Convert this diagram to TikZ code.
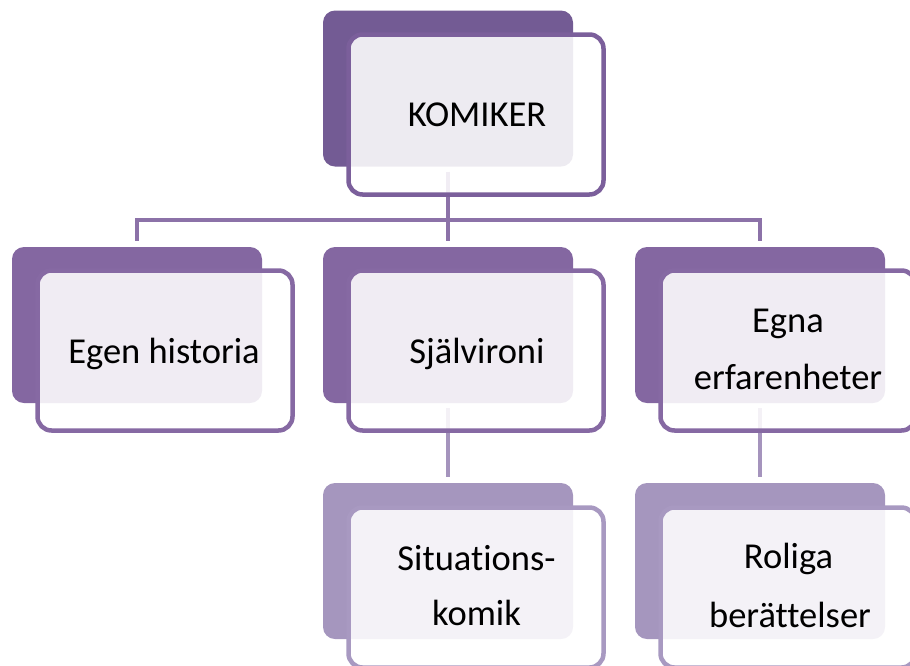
\documentclass[tikz,border=0pt]{standalone}
\usepackage{fontspec}
\setmainfont{Carlito}[Ligatures={CommonOff}]
\usetikzlibrary{backgrounds}
\definecolor{backA}{HTML}{735B94}
\definecolor{backB}{HTML}{8467A1}
\definecolor{backC}{HTML}{A596BE}
\definecolor{outA}{HTML}{7B5F9B}
\definecolor{outB}{HTML}{8669A3}
\definecolor{outC}{HTML}{A899C1}
\definecolor{connA}{HTML}{8C72A8}
\definecolor{connB}{HTML}{A594BD}
\begin{document}
\begin{tikzpicture}[x=1pt,y=-1pt,
  backbox/.style={rectangle, rounded corners=12pt, minimum width=250pt, minimum height=156pt, inner sep=0pt, draw=none},
  frontbox/.style={rectangle, rounded corners=14pt, minimum width=255pt, minimum height=160pt, inner sep=0pt, line width=4.5pt, fill=white, fill opacity=0.88, draw opacity=1},
  lbl/.style={font=\fontsize{36.5}{44}\selectfont, anchor=base, inner sep=0pt, text=black},
  conn/.style={line width=4.8pt}]
\useasboundingbox (0,0) rectangle (910,665);
\clip (0,0) rectangle (910,665);
% back boxes
\node[backbox, fill=backA] (b0) at (448,88.5) {};
\node[backbox, fill=backB] (b1) at (137,325) {};
\node[backbox, fill=backB] (b2) at (448,325) {};
\node[backbox, fill=backB] (b3) at (760,325) {};
\node[backbox, fill=backC] (b4) at (448,561) {};
\node[backbox, fill=backC] (b5) at (760,561) {};
% front boxes
\node[frontbox, draw=outA] (f0) at (476,114.5) {};
\node[frontbox, draw=outB] (f1) at (165,350.5) {};
\node[frontbox, draw=outB] (f2) at (476,350.5) {};
\node[frontbox, draw=outB] (f3) at (788,350.5) {};
\node[frontbox, draw=outC] (f4) at (476,587.5) {};
\node[frontbox, draw=outC] (f5) at (788,587.5) {};
% labels
\node[lbl] (t0) at (477,126) {KOMIKER};
\node[lbl] (t1) at (164,363) {Egen historia};
\node[lbl] (t2) at (477,363) {Självironi};
\node[lbl] (t3a) at (788,332) {Egna};
\node[lbl] (t3b) at (788,389) {erfarenheter};
\node[lbl] (t4a) at (476.5,570) {Situations-};
\node[lbl] (t4b) at (476.5,625) {komik};
\node[lbl] (t5a) at (788.5,568) {Roliga};
\node[lbl] (t5b) at (790,627) {berättelser};
% connectors
\coordinate (hub) at (448,220);
\begin{scope}[on background layer]
\draw[conn, draw=connA] ([yshift=-5pt]b0.south) -- (hub);
\draw[conn, draw=connA] (hub) -| ([yshift=6pt]b1.north);
\draw[conn, draw=connA] (hub) -| ([yshift=6pt]b3.north);
\draw[conn, draw=connA] (hub) -- ([yshift=6pt]b2.north);
\draw[conn, draw=connB] ([yshift=-5pt]b2.south) -- ([yshift=6pt]b4.north);
\draw[conn, draw=connB] ([yshift=-5pt]b3.south) -- ([yshift=6pt]b5.north);
\end{scope}
\end{tikzpicture}
\end{document}
